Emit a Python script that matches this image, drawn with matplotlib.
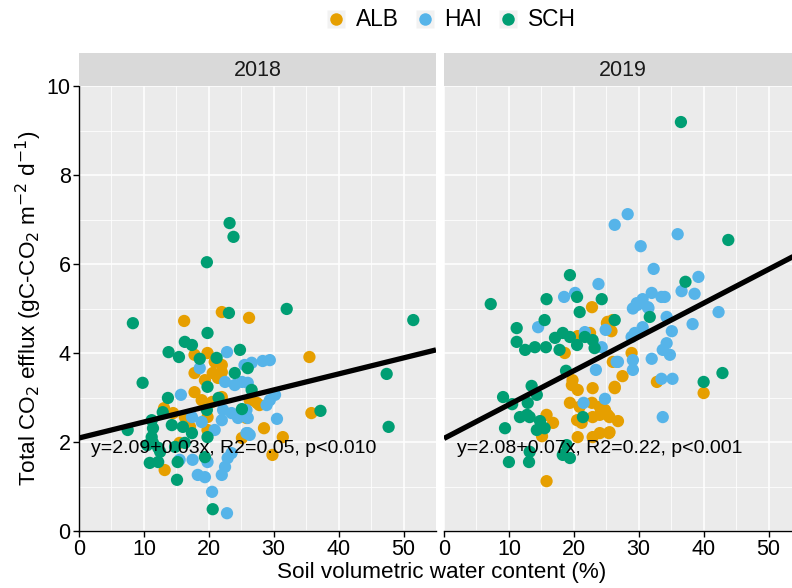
import matplotlib
matplotlib.use("Agg")
import matplotlib.pyplot as plt
from matplotlib.lines import Line2D
import numpy as np

plt.rcParams['font.family'] = ['Liberation Sans', 'DejaVu Sans']

sites = ["ALB", "HAI", "SCH"]
colors = {"ALB": "#E69F00", "HAI": "#56B4E9", "SCH": "#009E73"}
years = ["2018", "2019"]

# 2018 points (soil water %, CO2 efflux)
alb18_x = [16.2, 22.0, 26.2, 17.8, 19.8, 20.9, 22.0, 20.6, 22.0, 17.8, 17.8, 18.9, 20.5, 22.0,
           13.1, 14.5, 19.8, 16.3, 17.1, 19.8, 25.1, 15.5, 13.2, 35.5, 26.3, 27.4, 27.8, 35.8,
           25.8, 28.5, 31.4, 29.8, 21.4, 19.4]
alb18_y = [4.72, 4.92, 4.79, 3.96, 4.00, 3.80, 3.73, 3.55, 3.57, 3.55, 3.12, 2.94, 2.90, 3.01,
           2.76, 2.65, 2.56, 2.56, 2.34, 2.27, 2.09, 1.98, 1.37, 3.91, 2.94, 2.88, 2.83, 2.65,
           2.54, 2.31, 2.11, 1.71, 3.44, 3.39]
hai18_x = [22.8, 18.6, 22.5, 24.0, 26.0, 15.7, 22.2, 23.5, 17.4, 18.9, 22.0, 24.5, 26.0, 20.9,
           26.0, 15.5, 17.5, 19.8, 22.9, 23.5, 22.5, 22.0, 18.3, 19.4, 20.5, 22.8, 28.3, 29.4,
           25.5, 26.6, 25.1, 30.2, 29.4, 28.9, 30.5, 25.8, 26.3, 25.8]
hai18_y = [4.02, 3.66, 3.35, 3.28, 3.33, 3.06, 2.72, 2.65, 2.56, 2.45, 2.49, 2.54, 2.54, 2.27,
           2.20, 1.60, 1.60, 1.55, 1.64, 1.75, 1.44, 1.26, 1.26, 1.21, 0.88, 0.40, 3.82, 3.84,
           3.73, 3.78, 3.35, 3.06, 2.94, 2.83, 2.52, 2.20, 2.16, 2.72]
sch18_x = [23.2, 23.8, 19.7, 23.1, 8.3, 19.8, 16.3, 17.4, 13.8, 15.4, 18.6, 21.2, 24.8, 24.0,
           26.0, 9.8, 19.8, 13.7, 21.5, 26.6, 12.9, 19.7, 25.1, 11.2, 7.5, 11.4, 14.3, 16.0,
           17.4, 19.8, 11.2, 11.4, 10.5, 12.2, 12.5, 14.8, 16.3, 19.4, 10.9, 12.2, 15.2, 15.1,
           20.6, 32.0, 51.5, 47.4, 47.7, 37.2]
sch18_y = [6.92, 6.61, 6.04, 4.90, 4.67, 4.45, 4.25, 4.18, 4.02, 3.91, 3.87, 3.89, 4.07, 3.55,
           3.66, 3.33, 3.24, 2.99, 2.99, 3.17, 2.67, 2.72, 2.74, 2.49, 2.27, 2.31, 2.38, 2.34,
           2.20, 2.11, 2.11, 1.98, 1.93, 1.87, 1.78, 1.89, 1.98, 1.66, 1.53, 1.55, 1.55, 1.15,
           0.49, 4.99, 4.74, 3.53, 2.34, 2.70]

# 2019 points
alb19_x = [22.8, 18.6, 20.6, 22.5, 25.1, 26.0, 26.0, 19.8, 19.7, 20.6, 22.9, 26.3, 19.4, 20.9,
           22.8, 24.0, 22.9, 24.0, 20.5, 21.2, 25.2, 15.8, 16.8, 15.1, 20.6, 22.9, 24.0, 25.5,
           15.8, 25.2, 25.8, 28.9, 27.5, 26.3, 32.8, 40.0, 24.8, 25.5, 26.8, 25.4]
alb19_y = [5.03, 4.00, 4.38, 4.45, 4.67, 4.74, 3.80, 3.39, 3.28, 3.17, 3.21, 3.24, 2.88, 2.79,
           2.88, 2.79, 2.56, 2.61, 2.49, 2.43, 2.61, 2.61, 2.43, 2.13, 2.11, 2.11, 2.20, 2.22,
           1.12, 4.70, 4.49, 4.00, 3.48, 3.21, 3.35, 3.10, 2.72, 2.56, 2.47, 2.20]
hai19_x = [26.3, 23.8, 18.5, 20.2, 14.5, 21.7, 24.9, 24.3, 26.6, 23.4, 21.5, 24.8, 28.3, 36.0,
           30.3, 32.3, 39.2, 36.6, 38.6, 32.0, 33.5, 34.0, 30.6, 29.7, 29.1, 31.5, 34.3, 42.3,
           29.8, 31.4, 30.6, 29.4, 28.9, 38.3, 35.1, 34.3, 33.7, 34.8, 29.1, 29.1, 26.8, 32.0,
           33.5, 35.2, 33.7]
hai19_y = [6.88, 5.55, 5.26, 5.35, 4.58, 4.47, 4.52, 4.13, 3.80, 3.62, 2.88, 2.97, 7.12, 6.67,
           6.40, 5.89, 5.71, 5.39, 5.33, 5.35, 5.26, 5.26, 5.21, 5.12, 5.00, 5.01, 4.81, 4.92,
           5.08, 5.03, 4.58, 4.45, 4.36, 4.65, 4.49, 4.22, 4.07, 3.96, 3.84, 3.62, 3.80, 3.87,
           3.42, 3.42, 2.56]
sch19_x = [19.4, 20.5, 15.8, 24.3, 7.2, 20.9, 15.5, 11.2, 11.2, 12.5, 14.0, 15.7, 17.1, 18.3,
           19.4, 17.8, 20.5, 21.7, 22.9, 23.2, 26.3, 18.8, 13.5, 9.1, 14.3, 12.9, 10.5, 21.4,
           11.7, 12.8, 13.2, 14.8, 15.5, 14.3, 9.4, 18.9, 18.3, 19.4, 13.2, 13.1, 10.0, 36.5,
           43.8, 37.2, 31.7, 40.0, 42.9]
sch19_y = [5.75, 5.26, 5.21, 5.21, 5.10, 4.92, 4.74, 4.56, 4.25, 4.07, 4.13, 4.13, 4.34, 4.45,
           4.36, 4.07, 4.18, 4.36, 4.29, 4.11, 4.74, 3.60, 3.26, 3.01, 3.06, 2.88, 2.85, 2.56,
           2.56, 2.61, 2.56, 2.47, 2.31, 2.27, 2.31, 1.93, 1.71, 1.64, 1.78, 1.55, 1.55, 9.19,
           6.54, 5.60, 4.81, 3.35, 3.55]

points = {
    "2018": {"ALB": (alb18_x, alb18_y), "HAI": (hai18_x, hai18_y), "SCH": (sch18_x, sch18_y)},
    "2019": {"ALB": (alb19_x, alb19_y), "HAI": (hai19_x, hai19_y), "SCH": (sch19_x, sch19_y)},
}

# fitted lines (end points) and labels
fit_x = {"2018": [0, 55], "2019": [0, 55]}
fit_y = {"2018": [2.09, 4.07], "2019": [2.08, 6.26]}
fit_label = {"2018": "y=2.09+0.03x, R2=0.05, p<0.010",
             "2019": "y=2.08+0.07x, R2=0.22, p<0.001"}

x_ticks = [0, 10, 20, 30, 40, 50]
y_ticks = [0, 2, 4, 6, 8, 10]

fig = plt.figure(figsize=(7.92, 5.88), dpi=100)

panel_left = [79 / 792, 444 / 792]
pw = 357 / 792
pb = 57 / 588
ph = 445 / 588

for i, yr in enumerate(years):
    ax = fig.add_axes([panel_left[i], pb, pw, ph])
    ax.set_facecolor("#EBEBEB")
    ax.set_xlim(0, 55)
    ax.set_ylim(0, 10)
    ax.set_xticks(x_ticks)
    ax.set_yticks(y_ticks)
    ax.set_xticks(np.arange(5, 55, 10), minor=True)
    ax.set_yticks(np.arange(1, 10, 2), minor=True)
    ax.grid(which="major", color="white", lw=1.1)
    ax.grid(which="minor", color="white", lw=0.55)
    ax.set_axisbelow(True)
    for s in ["top", "right"]:
        ax.spines[s].set_visible(False)
    ax.spines["bottom"].set_color("black")
    ax.spines["bottom"].set_linewidth(1.0)
    ax.tick_params(which="minor", length=0)
    ax.tick_params(which="major", length=4, width=1, colors="black", labelsize=15.5, pad=2)
    if i == 0:
        ax.spines["left"].set_color("black")
        ax.spines["left"].set_linewidth(1.0)
    else:
        ax.spines["left"].set_visible(False)
        ax.tick_params(axis="y", length=0, labelleft=False)

    for site in sites:
        xs, ys = points[yr][site]
        ax.scatter(xs, ys, s=78, color=colors[site], edgecolors="none", zorder=3)

    ax.plot(fit_x[yr], fit_y[yr], color="black", lw=3.8, solid_capstyle="butt", zorder=4)
    ax.text(1.8 if i == 0 else 2.0, 1.86, fit_label[yr], fontsize=14, va="center", ha="left", zorder=5)

    # facet strip
    sax = fig.add_axes([panel_left[i], pb + ph, pw, 33 / 588])
    sax.set_facecolor("#D9D9D9")
    sax.set_xticks([])
    sax.set_yticks([])
    for s in sax.spines.values():
        s.set_visible(False)
    sax.text(0.5, 0.47, yr, ha="center", va="center", fontsize=15.5, color="#1A1A1A",
             transform=sax.transAxes)

fig.text(0.557, 0.008, "Soil volumetric water content (%)", ha="center", va="bottom", fontsize=16.2)
fig.text(0.018, pb + ph / 2, r"Total CO$_2$ efflux (gC-CO$_2$ m$^{-2}$ d$^{-1}$)",
         rotation=90, ha="left", va="center", fontsize=16.2)

handles = [(Line2D([], [], marker="s", ls="", markersize=13, color="#F2F2F2", markeredgecolor="none"),
            Line2D([], [], marker="o", ls="", markersize=9, color=colors[s], markeredgecolor="none"))
           for s in sites]
leg = fig.legend(handles, sites, loc="center", bbox_to_anchor=(0.568, 0.966), ncol=3,
                 frameon=False, fontsize=16.4, handletextpad=0.3, columnspacing=0.6,
                 handlelength=1.1)

fig.savefig("out.png", dpi=100)
